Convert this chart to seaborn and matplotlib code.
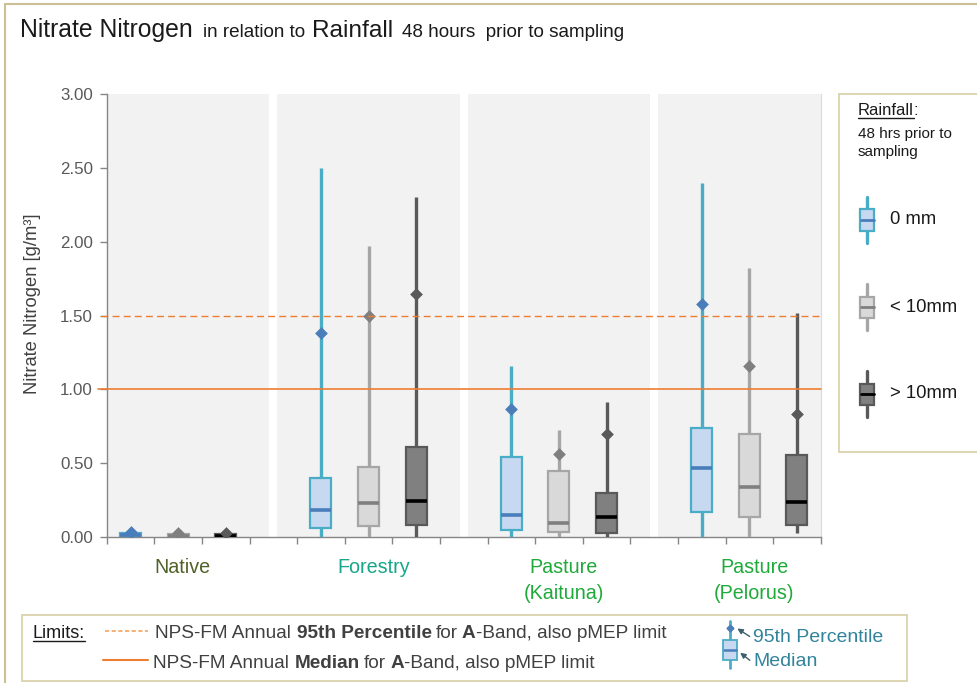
import numpy as np
import pandas as pd
import matplotlib
matplotlib.use("Agg")
import matplotlib.pyplot as plt
import seaborn as sns
from matplotlib import font_manager
from matplotlib.patches import Rectangle, FancyArrowPatch
from matplotlib.lines import Line2D

# ---------------- data ----------------
groups = ["Native", "Forestry", "Pasture\n(Kaituna)", "Pasture\n(Pelorus)"]
group_colors = ["#4f6228", "#16a689", "#1faa3a", "#1faa3a"]
rain_classes = ["0 mm", "< 10mm", "> 10mm"]

mins_0mm = [0.00, 0.00, 0.00, 0.00]
q1_0mm = [0.005, 0.06, 0.047, 0.167]
med_0mm = [0.012, 0.18, 0.15, 0.47]
q3_0mm = [0.025, 0.40, 0.545, 0.74]
max_0mm = [0.04, 2.50, 1.16, 2.40]
p95_0mm = [0.035, 1.38, 0.865, 1.575]

mins_lt10 = [0.00, 0.00, 0.00, 0.00]
q1_lt10 = [0.005, 0.075, 0.032, 0.133]
med_lt10 = [0.01, 0.232, 0.095, 0.341]
q3_lt10 = [0.02, 0.472, 0.449, 0.697]
max_lt10 = [0.035, 1.97, 0.725, 1.82]
p95_lt10 = [0.03, 1.50, 0.562, 1.16]

mins_gt10 = [0.00, 0.00, 0.00, 0.025]
q1_gt10 = [0.005, 0.08, 0.03, 0.081]
med_gt10 = [0.01, 0.246, 0.133, 0.237]
q3_gt10 = [0.02, 0.61, 0.30, 0.555]
max_gt10 = [0.03, 2.30, 0.915, 1.52]
p95_gt10 = [0.025, 1.645, 0.697, 0.833]

limit_95th = 1.5
limit_median = 1.0

stats = {
    "0 mm": (mins_0mm, q1_0mm, med_0mm, q3_0mm, max_0mm, p95_0mm),
    "< 10mm": (mins_lt10, q1_lt10, med_lt10, q3_lt10, max_lt10, p95_lt10),
    "> 10mm": (mins_gt10, q1_gt10, med_gt10, q3_gt10, max_gt10, p95_gt10),
}

styles = {
    "0 mm": dict(fill="#c6d9f1", edge="#4bacc6", median="#4a7ebb", diamond="#4a7ebb"),
    "< 10mm": dict(fill="#d9d9d9", edge="#a6a6a6", median="#7f7f7f", diamond="#7f7f7f"),
    "> 10mm": dict(fill="#808080", edge="#595959", median="#000000", diamond="#595959"),
}

# slot order: 3 boxes per group, one empty slot between groups
slots = []
for gi, g in enumerate(groups):
    for c in rain_classes:
        slots.append(f"{g}|{c}")
    if gi < len(groups) - 1:
        slots.append(f"gap{gi}")

# ---------------- fonts ----------------
names = {f.name for f in font_manager.fontManager.ttflist}
REG = "Liberation Sans" if "Liberation Sans" in names else "DejaVu Sans"

sns.set_theme(style="white")
plt.rcParams["font.family"] = [REG]

W, H = 977, 683
fig = plt.figure(figsize=(W / 100, H / 100), dpi=100)
fig.patch.set_facecolor("white")

def fx(px):
    return px / W

def fy(py):
    return 1 - py / H

ax = fig.add_axes([fx(106.7), fy(537), fx(820.7) - fx(106.7), fy(94) - fy(537)])
ax.set_facecolor("white")

for c in rain_classes:
    mn, q1, md, q3, mx, p95 = stats[c]
    rows = []
    prow = []
    for gi, g in enumerate(groups):
        for v in (mn[gi], q1[gi], md[gi], q3[gi], mx[gi]):
            rows.append({"slot": f"{g}|{c}", "value": v})
        prow.append({"slot": f"{g}|{c}", "p95": p95[gi]})
    df = pd.DataFrame(rows)
    dp = pd.DataFrame(prow)
    st = styles[c]
    sns.boxplot(data=df, x="slot", y="value", order=slots, whis=(0, 100),
                width=0.44, saturation=1, color=st["fill"], linecolor=st["edge"],
                linewidth=1.6, showcaps=False, showfliers=False,
                medianprops=dict(color=st["median"], linewidth=2.6),
                whiskerprops=dict(linewidth=2.4, color=st["edge"]),
                ax=ax, zorder=3)
    sns.stripplot(data=dp, x="slot", y="p95", order=slots, jitter=False,
                  marker="D", size=6.5, color=st["diamond"], linewidth=0,
                  ax=ax, zorder=5)

# panels
gap = 0.085
bounds = [(-0.5, 3 - gap), (3 + gap, 7 - gap), (7 + gap, 11 - gap), (11 + gap, 14.5)]
for lo, hi in bounds:
    ax.axvspan(lo, hi, color="#f2f2f2", zorder=0, lw=0)

ax.axhline(limit_95th, xmin=-0.008, xmax=1, color="#ed7d31", lw=1.0,
           ls=(0, (5, 3)), zorder=6, clip_on=False)
ax.axhline(limit_median, xmin=-0.012, xmax=1, color="#ed7d31", lw=1.2,
           zorder=6, clip_on=False)

ax.set_xlim(-0.5, 14.5)
ax.set_ylim(0, 3.0)
ax.set_xticks(np.arange(-0.5, 15, 1))
ax.set_xticklabels([])
ax.set_yticks(np.arange(0, 3.01, 0.5))
ax.set_yticklabels([f"{v:.2f}" for v in np.arange(0, 3.01, 0.5)])
ax.set_xlabel("")
ax.set_ylabel("")
ax.tick_params(axis="both", which="both", direction="out", length=5, width=1,
               color="#868686", labelcolor="#595959", labelsize=12.2, pad=5,
               bottom=True, left=True)
ax.spines["top"].set_visible(False)
ax.spines["right"].set_color("#dadada")
ax.spines["right"].set_linewidth(0.8)
for s in ["left", "bottom"]:
    ax.spines[s].set_color("#868686")
    ax.spines[s].set_linewidth(1.0)

# group labels
for gi, g in enumerate(groups):
    xpos = gi * 4 + 1.1
    ax.text(xpos, -0.048, g, transform=ax.get_xaxis_transform(), ha="center",
            va="top", fontsize=14.2, color=group_colors[gi], linespacing=1.42)

fig.text(fx(33), fy(304), "Nitrate Nitrogen [g/m³]", rotation=90, ha="center",
         va="center", fontsize=13.2, color="#404040")

fig.canvas.draw()
R = fig.canvas.get_renderer()

def seq_text(x_px, y_px, parts, **kw):
    x = x_px
    for s, props, gap_after in parts:
        p = dict(kw)
        p.update(props)
        t = fig.text(fx(x), fy(y_px), s, ha="left", va="baseline", **p)
        bb = t.get_window_extent(renderer=R)
        x = bb.x1 + gap_after
    return x

# title
seq_text(20, 37, [
    ("Nitrate Nitrogen", dict(fontsize=17.8), 10),
    ("in relation to", dict(fontsize=13.6), 7),
    ("Rainfall", dict(fontsize=17.6), 9),
    ("48 hours  prior to sampling", dict(fontsize=13.6), 0),
], color="#1a1a1a")

# figure border
border_c = "#cbbf95"
fig.add_artist(Line2D([fx(5), 1], [fy(4), fy(4)], transform=fig.transFigure,
                      color=border_c, lw=1.5))
fig.add_artist(Line2D([fx(5), fx(5)], [fy(4), 0], transform=fig.transFigure,
                      color=border_c, lw=1.5))

# right legend box
fig.add_artist(Rectangle((fx(839), fy(452)), fx(990) - fx(839), fy(94) - fy(452),
                         transform=fig.transFigure, facecolor="white",
                         edgecolor="#d8cfa8", lw=1.2, zorder=1))
t = fig.text(fx(858), fy(115), "Rainfall", ha="left", va="baseline", fontsize=12,
             color="#1a1a1a", zorder=2)
bb = t.get_window_extent(renderer=R)
fig.text(bb.x1 / W, fy(115), ":", ha="left", va="baseline", fontsize=12,
         color="#1a1a1a", zorder=2)
fig.add_artist(Line2D([bb.x0 / W, bb.x1 / W], [fy(117.5), fy(117.5)],
                      transform=fig.transFigure, color="#1a1a1a", lw=1.0, zorder=2))
fig.text(fx(858), fy(138), "48 hrs prior to", ha="left", va="baseline",
         fontsize=11, color="#1a1a1a", zorder=2)
fig.text(fx(858), fy(156), "sampling", ha="left", va="baseline",
         fontsize=11, color="#1a1a1a", zorder=2)

icon_y = {"0 mm": 220, "< 10mm": 307, "> 10mm": 394}
for c in rain_classes:
    st = styles[c]
    yc = icon_y[c]
    fig.add_artist(Line2D([fx(867), fx(867)], [fy(yc - 23), fy(yc + 23)],
                          transform=fig.transFigure, color=st["edge"], lw=2.4, zorder=2))
    fig.add_artist(Rectangle((fx(859.5), fy(yc + 10.5)), fx(874.5) - fx(859.5),
                             fy(yc - 10.5) - fy(yc + 10.5),
                             transform=fig.transFigure, facecolor=st["fill"],
                             edgecolor=st["edge"], lw=1.6, zorder=3))
    fig.add_artist(Line2D([fx(860.5), fx(873.5)], [fy(yc), fy(yc)],
                          transform=fig.transFigure, color=st["median"], lw=2.0, zorder=4))
    fig.text(fx(890), fy(yc), c, ha="left", va="center", fontsize=13.3,
             color="#1a1a1a", zorder=2)

# bottom legend box
fig.add_artist(Rectangle((fx(22), fy(681)), fx(907) - fx(22), fy(615) - fy(681),
                         transform=fig.transFigure, facecolor="white",
                         edgecolor="#d8cfa8", lw=1.2, zorder=1))
t = fig.text(fx(33), fy(638), "Limits:", ha="left", va="baseline", fontsize=13,
             color="#1a1a1a")
bb = t.get_window_extent(renderer=R)
fig.add_artist(Line2D([bb.x0 / W, bb.x1 / W], [fy(641), fy(641)],
                      transform=fig.transFigure, color="#1a1a1a", lw=1.0))
fig.add_artist(Line2D([fx(105), fx(148)], [fy(631), fy(631)], transform=fig.transFigure,
                      color="#f4a460", lw=1.2, ls=(0, (2.5, 1.5))))
fig.add_artist(Line2D([fx(103), fx(148)], [fy(660), fy(660)], transform=fig.transFigure,
                      color="#ed7d31", lw=1.5))
B = dict(fontweight="bold")
seq_text(155, 638, [
    ("NPS-FM Annual", {}, 6),
    ("95th Percentile", B, 4),
    ("for", {}, 4),
    ("A", B, 0),
    ("-Band, also pMEP limit", {}, 0),
], fontsize=13.7, color="#404040")
seq_text(153, 668, [
    ("NPS-FM Annual", {}, 6),
    ("Median", B, 4),
    ("for", {}, 4),
    ("A", B, 0),
    ("-Band, also pMEP limit", {}, 0),
], fontsize=13.7, color="#404040")

# box explanation icon
st = styles["0 mm"]
fig.add_artist(Line2D([fx(730), fx(730)], [fy(621), fy(668)], transform=fig.transFigure,
                      color=st["edge"], lw=2.0))
fig.add_artist(Rectangle((fx(723), fy(660)), fx(737) - fx(723), fy(640) - fy(660),
                         transform=fig.transFigure, facecolor=st["fill"],
                         edgecolor=st["edge"], lw=1.3, zorder=3))
fig.add_artist(Line2D([fx(724), fx(736)], [fy(650), fy(650)], transform=fig.transFigure,
                      color=st["median"], lw=1.8, zorder=4))
fig.add_artist(Line2D([fx(730)], [fy(628)], transform=fig.transFigure, marker="D",
                      markersize=3.5, color=st["diamond"], lw=0, zorder=4))
teal = "#31849b"
for (tx, ty), (ex, ey), label in [((752, 638), (735, 627), "95th Percentile"),
                                  ((752, 662), (738, 651), "Median")]:
    fig.add_artist(FancyArrowPatch((fx(tx), fy(ty)), (fx(ex), fy(ey)),
                                   transform=fig.transFigure, arrowstyle="-|>",
                                   mutation_scale=8, color="#3b5f6b", lw=1.0))
    fig.text(fx(tx + 1), fy(ty), label, ha="left", va="center", fontsize=14,
             color=teal)

fig.savefig("out.png", dpi=100)
